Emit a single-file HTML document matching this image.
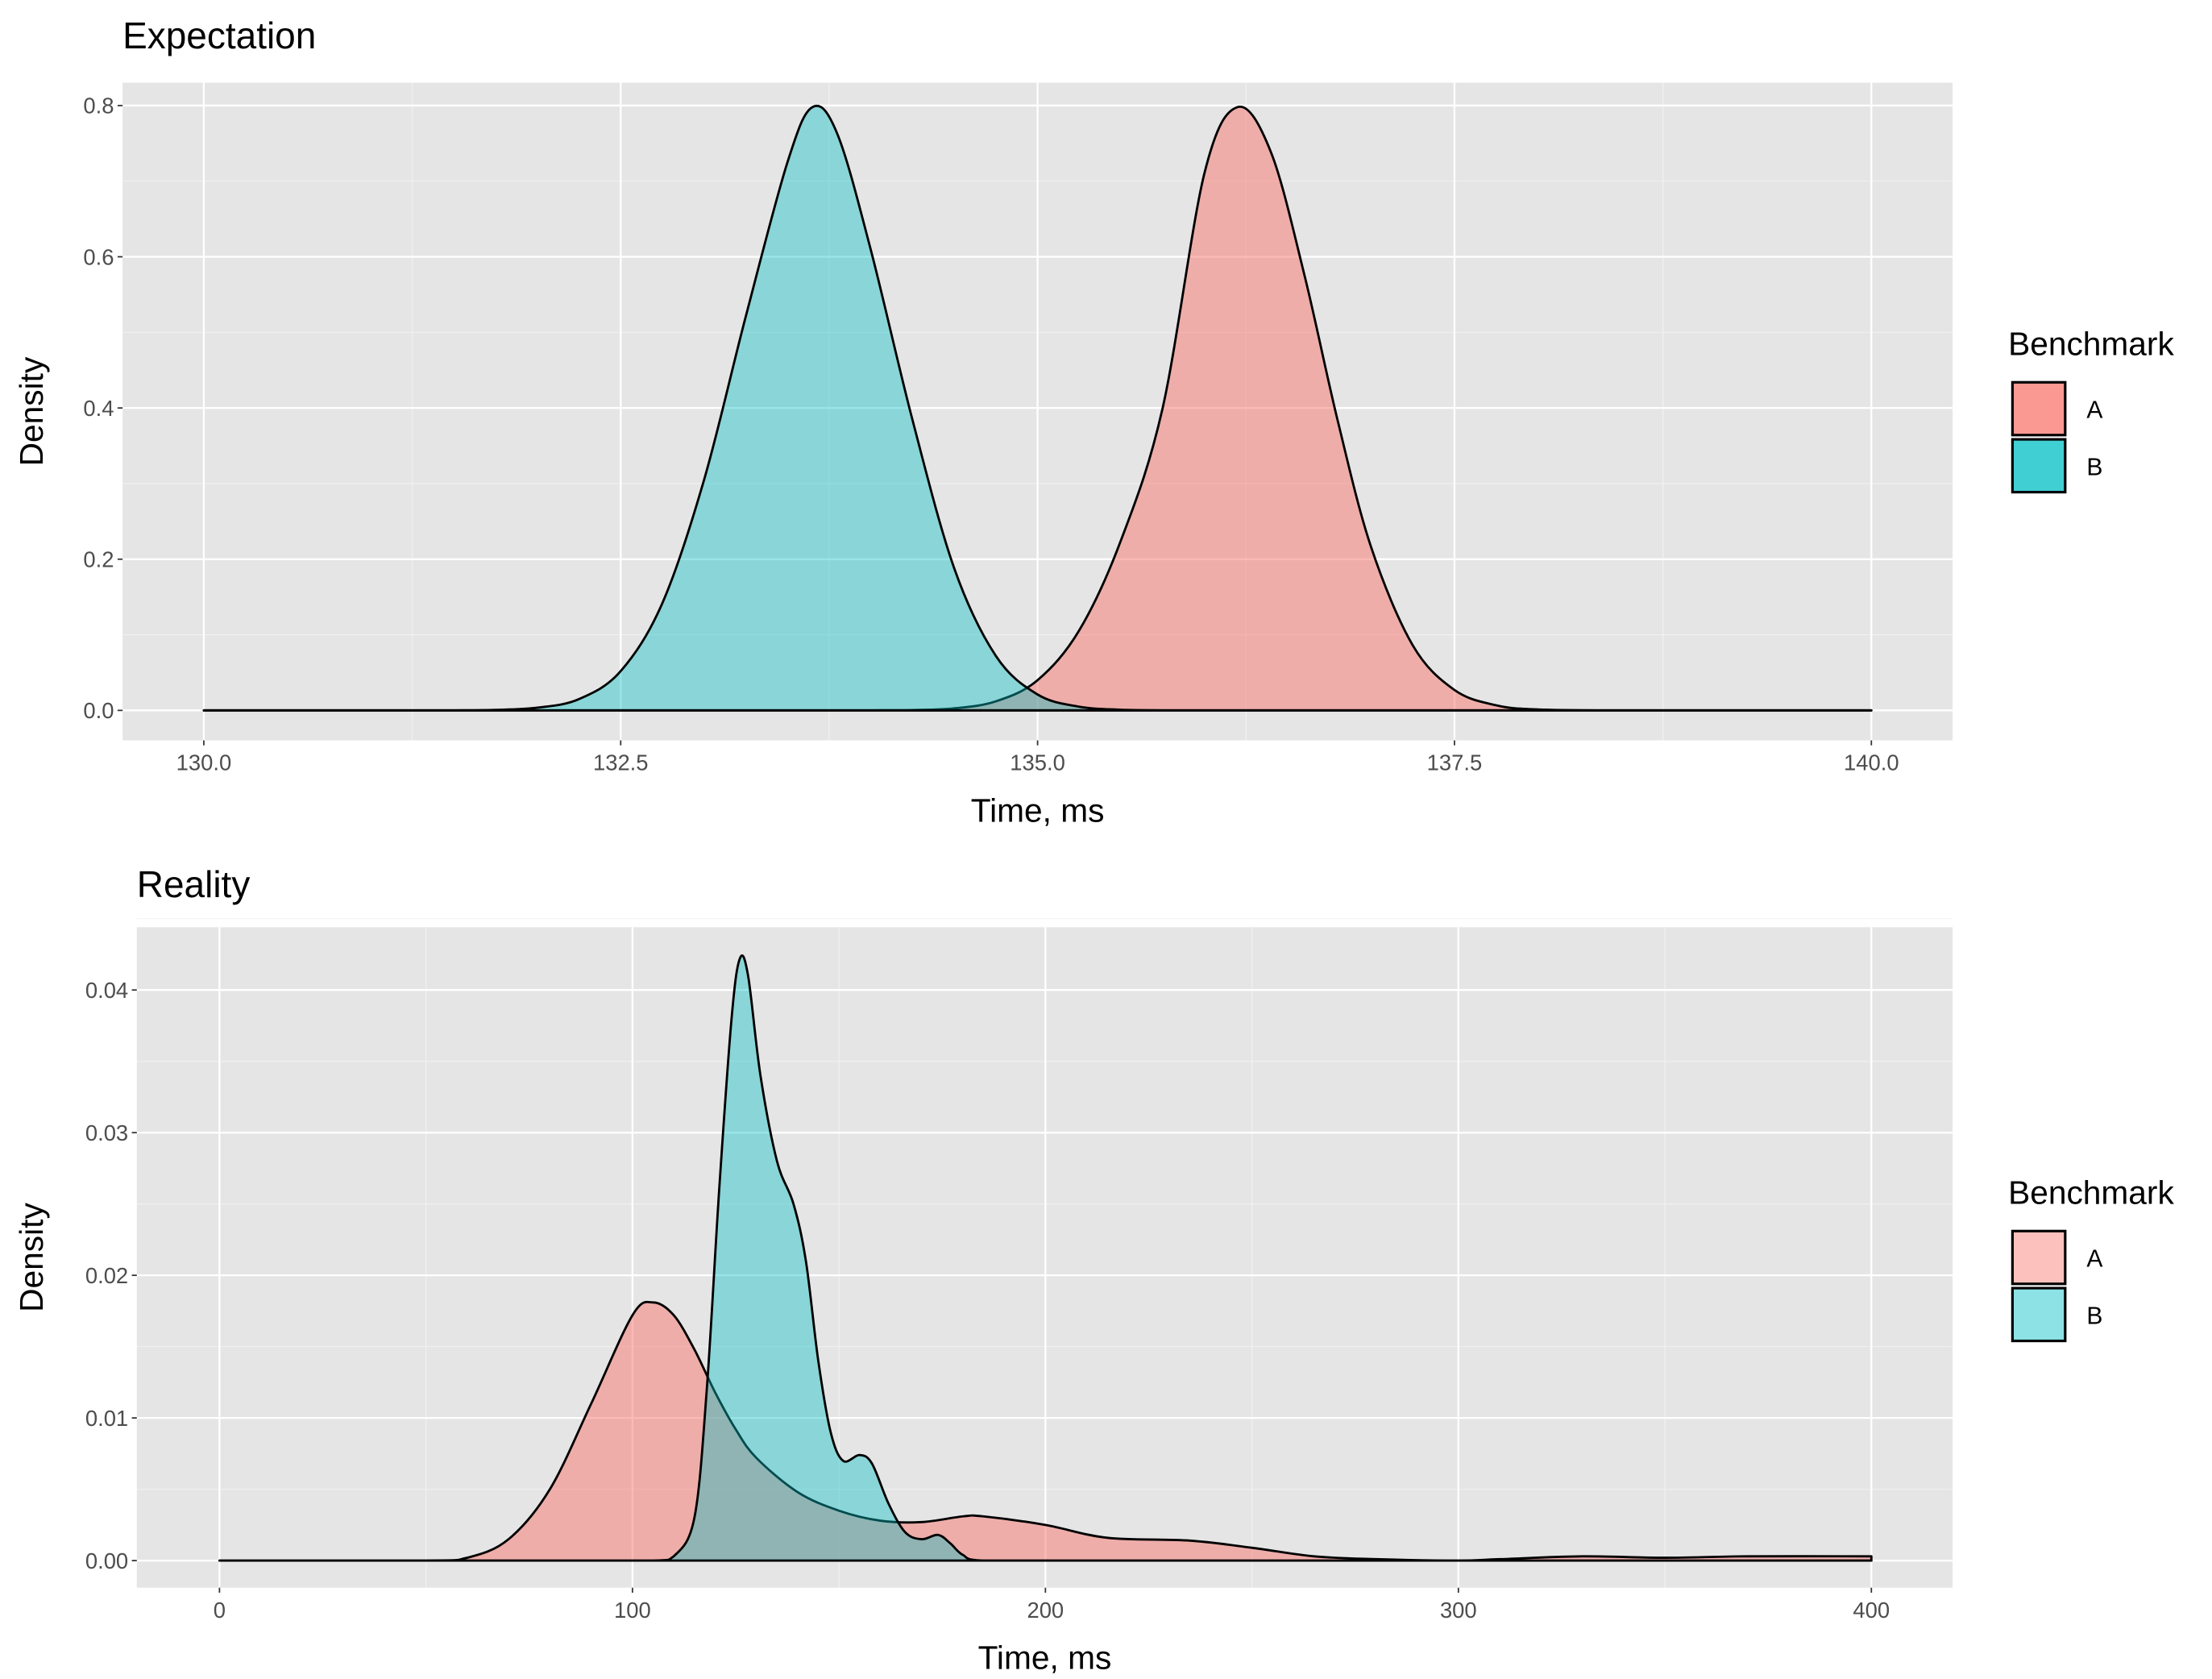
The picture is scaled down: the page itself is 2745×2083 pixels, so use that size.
<!DOCTYPE html>
<html><head><meta charset="utf-8"><style>
html,body{margin:0;padding:0;background:#fff}
svg{display:block}
text{font-family:"Liberation Sans",sans-serif}
</style></head><body>
<svg id="chart" width="2745" height="2083" viewBox="0 0 1552 1177" preserveAspectRatio="none" xmlns="http://www.w3.org/2000/svg">
<g id="top"></g>
<g id="bot"></g>
</svg>
<script>
// Expectation data
const expX = [130,131,131.5,131.75,132,132.25,132.5,132.75,133,133.25,133.5,133.65,133.8,134,134.25,134.5,134.75,135,135.25,135.5,135.75,136,136.2,136.4,136.6,136.8,137,137.25,137.5,137.75,138,138.5,139,140];
const expA = [0,0,0,0,0,0,0,0,0,0,0,0,0,0.0001,0.0005,0.0027,0.012,0.040,0.106,0.225,0.400,0.710,0.798,0.738,0.576,0.383,0.216,0.086,0.027,0.0068,0.0013,0,0,0];
const expB = [0,0,0.0001,0.0007,0.0036,0.015,0.052,0.142,0.305,0.521,0.725,0.798,0.762,0.609,0.384,0.188,0.072,0.021,0.0049,0.0009,0.0001,0,0,0,0,0,0,0,0,0,0,0,0,0];
const expXTicks = [130,132.5,135,137.5,140];
const expXTickLabels = ["130.0","132.5","135.0","137.5","140.0"];
const expYTicks = [0,0.2,0.4,0.6,0.8];
const expYTickLabels = ["0.0","0.2","0.4","0.6","0.8"];
// Reality data
const realAX = [0,50,60,70,80,90,100,105,110,115,120,125,130,140,150,160,170,180,185,200,215,235,250,265,280,300,310,330,350,370,400];
const realAY = [0,0,0.0002,0.0015,0.005,0.011,0.0172,0.0181,0.0172,0.0148,0.0118,0.0092,0.0072,0.0048,0.0035,0.0028,0.0027,0.0031,0.0031,0.0025,0.0016,0.0014,0.0009,0.0003,0.0001,0,0.0001,0.0003,0.0002,0.0003,0.0003];
const realBX = [0,105,110,115,118,121,124,126,128,131,135,139,142,145,148,151,155,158,162,166,170,174,177,180,185,400];
const realBY = [0,0,0.0003,0.003,0.012,0.026,0.038,0.0422,0.041,0.034,0.028,0.025,0.021,0.014,0.009,0.007,0.0074,0.0068,0.004,0.002,0.0015,0.0018,0.0012,0.0004,0,0];
const realXTicks = [0,100,200,300,400];
const realXTickLabels = ["0","100","200","300","400"];
const realYTicks = [0,0.01,0.02,0.03,0.04];
const realYTickLabels = ["0.00","0.01","0.02","0.03","0.04"];

const NS="http://www.w3.org/2000/svg";
function mk(parent,tag,attrs,txt){const e=document.createElementNS(NS,tag);for(const k in attrs)e.setAttribute(k,attrs[k]);if(txt!==undefined)e.textContent=txt;parent.appendChild(e);return e;}

function smoothPath(pts,base){
  let d='M'+pts[0][0].toFixed(2)+','+base.toFixed(2)+' L'+pts[0][0].toFixed(2)+','+pts[0][1].toFixed(2);
  for(let i=0;i<pts.length-1;i++){
    const p0=pts[Math.max(0,i-1)],p1=pts[i],p2=pts[i+1],p3=pts[Math.min(pts.length-1,i+2)];
    const t=0.5/3;
    let c1x=p1[0]+(p2[0]-p0[0])*t,c1y=p1[1]+(p2[1]-p0[1])*t;
    let c2x=p2[0]-(p3[0]-p1[0])*t,c2y=p2[1]-(p3[1]-p1[1])*t;
    c1x=Math.min(Math.max(c1x,p1[0]),p2[0]);c2x=Math.min(Math.max(c2x,p1[0]),p2[0]);
    c1y=Math.min(c1y,base);c2y=Math.min(c2y,base);
    d+=' C'+c1x.toFixed(2)+','+c1y.toFixed(2)+' '+c2x.toFixed(2)+','+c2y.toFixed(2)+' '+p2[0].toFixed(2)+','+p2[1].toFixed(2);
  }
  d+=' L'+pts[pts.length-1][0].toFixed(2)+','+base.toFixed(2)+' Z';
  return d;
}

function panel(g,cfg){
  const {L,R,T,B,x0,x1,px0,px1,y0,y1,py0,py1}=cfg;
  const sx=v=>px0+(v-x0)/(x1-x0)*(px1-px0);
  const sy=v=>py0+(v-y0)/(y1-y0)*(py1-py0);
  const bg=mk(g,'rect',{x:L,y:T,width:R-L,height:B-T,fill:'#E5E5E5'});
  
  
  const xt=cfg.xTicks, yt=cfg.yTicks;
  for(let i=0;i<xt.length-1;i++){const m=(xt[i]+xt[i+1])/2;const l=mk(g,'line',{x1:sx(m),x2:sx(m),y1:T,y2:B,stroke:'#F2F2F2','stroke-width':0.6});}
  for(let i=0;i<yt.length-1;i++){const m=(yt[i]+yt[i+1])/2;const l=mk(g,'line',{x1:L,x2:R,y1:sy(m),y2:sy(m),stroke:'#F2F2F2','stroke-width':0.6});}
  if(cfg.extraMinorX){const m=cfg.extraMinorX;const l=mk(g,'line',{x1:sx(m),x2:sx(m),y1:T,y2:B,stroke:'#F2F2F2','stroke-width':0.6});}
  if(cfg.extraMinorY!==undefined){const m=cfg.extraMinorY;const l=mk(g,'line',{x1:L,x2:R,y1:sy(m),y2:sy(m),stroke:'#F2F2F2','stroke-width':0.6});}
  xt.forEach((v,i)=>{
    const l=mk(g,'line',{x1:sx(v),x2:sx(v),y1:T,y2:B,stroke:'#fff','stroke-width':1.3});
    
    const tk=mk(g,'line',{x1:sx(v),x2:sx(v),y1:B,y2:B+3.5,stroke:'#333','stroke-width':1});
    
    const t=mk(g,'text',{x:sx(v),y:B+21,'text-anchor':'middle','font-size':15.5,fill:'#4D4D4D'},cfg.xLabels[i]);
    
  });
  yt.forEach((v,i)=>{
    const l=mk(g,'line',{x1:L,x2:R,y1:sy(v),y2:sy(v),stroke:'#fff','stroke-width':1.3});
    
    const tk=mk(g,'line',{x1:L-3.5,x2:L,y1:sy(v),y2:sy(v),stroke:'#333','stroke-width':1});
    
    const t=mk(g,'text',{x:L-6,y:sy(v)+5.5,'text-anchor':'end','font-size':15.5,fill:'#4D4D4D'},cfg.yLabels[i]);
    
  });
  cfg.series.forEach(s=>{
    const pts=s.x.map((xv,i)=>[sx(xv),sy(s.y[i])]);
    const p=mk(g,'path',{d:smoothPath(pts,sy(0)),fill:s.fill,'fill-opacity':s.op,stroke:'#000','stroke-width':1.6,'stroke-linejoin':'round'});
    
  });
  const tt=mk(g,'text',{x:L,y:cfg.titleY,'font-size':26,fill:'#000'},cfg.title);
  
  const xa=mk(g,'text',{x:(L+R)/2,y:B+57,'text-anchor':'middle','font-size':23,fill:'#000'},'Time, ms');
  
  const cy=(T+B)/2;
  const ya=mk(g,'text',{x:30,y:cy,'text-anchor':'middle','font-size':23,fill:'#000',transform:'rotate(-90 30 '+cy+')'},'Density');
  
  const lt=mk(g,'text',{x:1409,y:cfg.legY,'font-size':23,fill:'#000'},'Benchmark');
  
  [['A','#F8766D'],['B','#00BFC4']].forEach((k,i)=>{
    const y=cfg.legY+18+i*40;
    const r=mk(g,'rect',{x:1411,y:y,width:39,height:39,fill:'#fff'});
    
    const r2=mk(g,'rect',{x:1412,y:y+1,width:37,height:37,fill:k[1],'fill-opacity':cfg.legOp,stroke:'#000','stroke-width':1.8});
    
    const lb=mk(g,'text',{x:1464,y:y+26,'font-size':17,fill:'#000'},k[0]);
    
  });
}
panel(document.getElementById('top'),{L:86,R:1370,T:58,B:519,x0:130,x1:140,px0:143,px1:1313,y0:0,y1:0.8,py0:498,py1:74,
  xTicks:expXTicks,xLabels:expXTickLabels,yTicks:expYTicks,yLabels:expYTickLabels,extraMinorX:138.75,
  title:'Expectation',titleY:34,legY:249,legOp:0.75,
  series:[{name:'density-a',x:expX,y:expA,fill:'#F8766D',op:0.5},{name:'density-b',x:expX,y:expB,fill:'#00BFC4',op:0.4}]});
panel(document.getElementById('bot'),{L:96,R:1370,T:650,B:1113,x0:0,x1:400,px0:154,px1:1313,y0:0,y1:0.04,py0:1094,py1:694,
  xTicks:realXTicks,xLabels:realXTickLabels,yTicks:realYTicks,yLabels:realYTickLabels,extraMinorY:0.045,
  title:'Reality',titleY:629,legY:844,legOp:0.45,
  series:[{name:'density-a',x:realAX,y:realAY,fill:'#F8766D',op:0.5},{name:'density-b',x:realBX,y:realBY,fill:'#00BFC4',op:0.4}]});
</script>
</body></html>
